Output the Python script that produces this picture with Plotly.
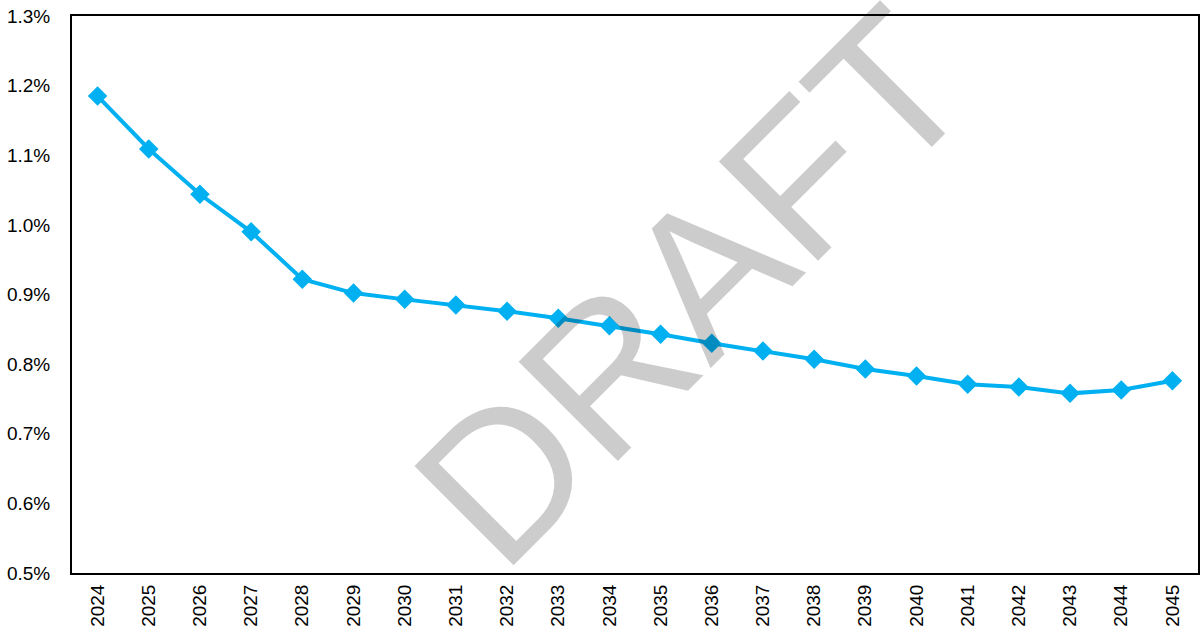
import plotly.graph_objects as go

# Annual rate by year
years = [str(y) for y in range(2024, 2046)]
rates = [1.185, 1.109, 1.044, 0.990, 0.922, 0.902, 0.893, 0.885, 0.876, 0.866,
         0.855, 0.843, 0.830, 0.819, 0.807, 0.793, 0.783, 0.771, 0.767, 0.758,
         0.763, 0.776]
y_ticks = [0.5, 0.6, 0.7, 0.8, 0.9, 1.0, 1.1, 1.2, 1.3]
y_tick_labels = [f"{v:.1f}%" for v in y_ticks]

fig = go.Figure()
fig.add_trace(go.Scatter(
    x=years, y=rates, mode="lines+markers",
    line=dict(color="#00B0F0", width=4),
    marker=dict(symbol="diamond", size=15, color="#00B0F0"),
    showlegend=False,
))

# Watermark drawn over the data
fig.add_annotation(
    text="DRAFT", xref="paper", yref="paper", x=0.551, y=0.515,
    xanchor="center", yanchor="middle", textangle=-45, showarrow=False,
    font=dict(family="Liberation Sans, Arial", size=204, color="rgba(0,0,0,0.2)"),
)

fig.update_layout(
    width=1200, height=633,
    margin=dict(l=72, r=0, t=16, b=60),
    paper_bgcolor="white", plot_bgcolor="white",
    font=dict(family="Liberation Sans, Arial", color="black", size=19),
)
fig.update_xaxes(
    type="category", range=[-0.5, len(years) - 0.5], tickangle=-90, showgrid=False,
    showline=True, linecolor="black", linewidth=2, mirror=True,
    ticks="", ticklabelstandoff=2, tickfont=dict(size=19),
)
fig.update_yaxes(
    range=[0.5, 1.3], tickvals=y_ticks, ticktext=y_tick_labels, showgrid=False,
    showline=True, linecolor="black", linewidth=2, mirror=True, zeroline=False,
    ticks="", ticklabelstandoff=16, tickfont=dict(size=19),
)

fig.write_html("out.html")
